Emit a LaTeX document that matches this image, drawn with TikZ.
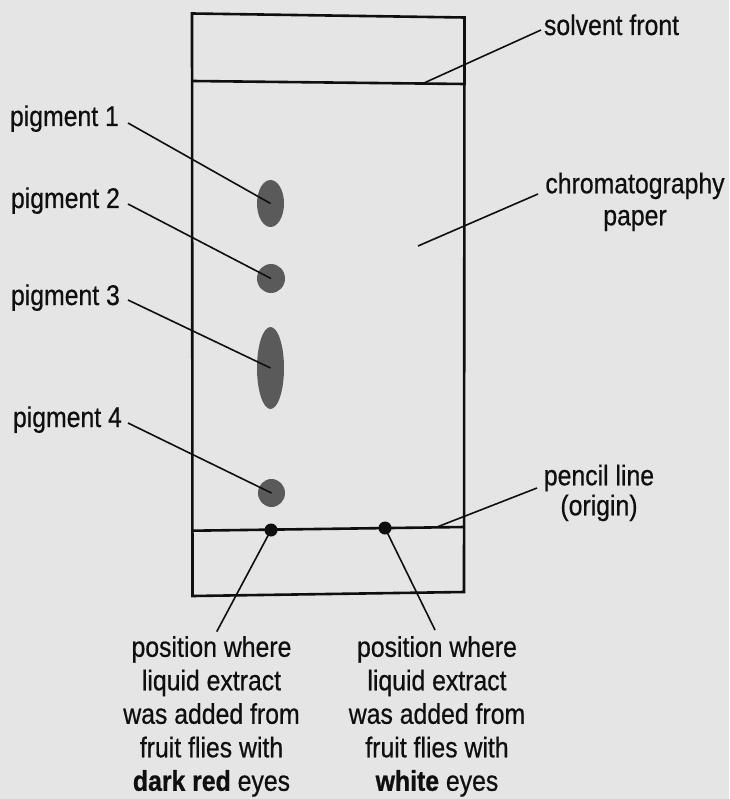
\documentclass[tikz,border=0pt]{standalone}
\usepackage{fontspec}
\setmainfont{Liberation Sans}[FakeStretch=0.87, UprightFeatures={FakeBold=0.6}, BoldFeatures={FakeBold=0.8}]
\usetikzlibrary{shapes.geometric}
\definecolor{bg}{RGB}{229,229,229}
\definecolor{spotgray}{RGB}{90,90,90}
\definecolor{ink}{RGB}{15,15,15}
\tikzset{
  paperline/.style={line width=2.6pt, line join=miter, draw=ink},
  conn/.style={line width=1.6pt, draw=ink},
  lbl/.style={inner sep=0pt, outer sep=0pt, text=ink, font=\fontsize{28.5}{33.5}\selectfont},
  spotnode/.style={ellipse, fill=spotgray, draw=none, inner sep=0pt},
  dotnode/.style={circle, fill=ink, draw=none, inner sep=0pt, minimum size=13pt},
}
\begin{document}
\begin{tikzpicture}[x=1pt, y=-1pt]
  \fill[bg] (0,0) rectangle (729,799);
  \useasboundingbox (0,0) rectangle (729,799);

  % paper outline
  \coordinate (TL) at (192,13.5);
  \coordinate (TR) at (464.5,17.5);
  \coordinate (BR) at (464,592);
  \coordinate (BL) at (192.5,596);
  \coordinate (SL) at (192.2,81);
  \coordinate (SR) at (464.4,84);
  \coordinate (OL) at (192.4,530.7);
  \coordinate (OR) at (464.1,527);
  \draw[paperline] (TL) -- (TR) -- (BR) -- (BL) -- cycle;
  \draw[paperline] (SL) -- (SR);
  \draw[paperline] (OL) -- (OR);

  % pigment spots
  \node[spotnode, minimum width=27pt, minimum height=47pt] (p1) at (270.5,203.5) {};
  \node[spotnode, minimum width=28pt, minimum height=29pt] (p2) at (271,278.5) {};
  \node[spotnode, minimum width=27pt, minimum height=82pt] (p3) at (270.5,368) {};
  \node[spotnode, minimum width=27pt, minimum height=28pt] (p4) at (271.5,493) {};

  % origin dots
  \node[dotnode] (d1) at (271,530) {};
  \node[dotnode] (d2) at (385,528) {};

  % left labels
  \node[lbl, anchor=base west] (l1) at (10,126) {pigment 1};
  \node[lbl, anchor=base west] (l2) at (11,208) {pigment 2};
  \node[lbl, anchor=base west] (l3) at (11,305) {pigment 3};
  \node[lbl, anchor=base west] (l4) at (13,427) {pigment 4};
  \coordinate (c1) at (128,123);
  \coordinate (c2) at (128,204);
  \coordinate (c3) at (128,300);
  \coordinate (c4) at (128,423);
  \draw[conn] (c1) -- (p1.center);
  \draw[conn] (c2) -- (p2.center);
  \draw[conn] (c3) -- (p3.center);
  \draw[conn] (c4) -- (p4.center);

  % right labels
  \node[lbl, anchor=base west] (sf) at (544,35) {solvent front};
  \coordinate (sfs) at (541,30);
  \coordinate (sfe) at (424,83);
  \draw[conn] (sfs) -- (sfe);

  \node[lbl, anchor=north, align=center, font=\fontsize{28.5}{32}\selectfont] (cp) at (635,172.6) {chromatography\\paper};
  \coordinate (cps) at (538,194);
  \coordinate (cpe) at (418,246);
  \draw[conn] (cps) -- (cpe);

  \node[lbl, anchor=north, align=center, font=\fontsize{28.5}{30}\selectfont] (pl) at (599,464.6) {pencil line\\(origin)};
  \coordinate (pls) at (537,488);
  \coordinate (ple) at (437,527);
  \draw[conn] (pls) -- (ple);

  % bottom labels
  \node[lbl, anchor=north, align=center] (bl) at (211.5,636.1)
    {position where\\liquid extract\\was added from\\fruit flies with\\\textbf{dark red} eyes};
  \node[lbl, anchor=north, align=center] (br) at (437,636.1)
    {position where\\liquid extract\\was added from\\fruit flies with\\\textbf{white} eyes};
  \coordinate (ble) at (216.7,631.7);
  \coordinate (bre) at (435,630);
  \draw[conn] (d1.center) -- (ble);
  \draw[conn] (d2.center) -- (bre);
\end{tikzpicture}
\end{document}
